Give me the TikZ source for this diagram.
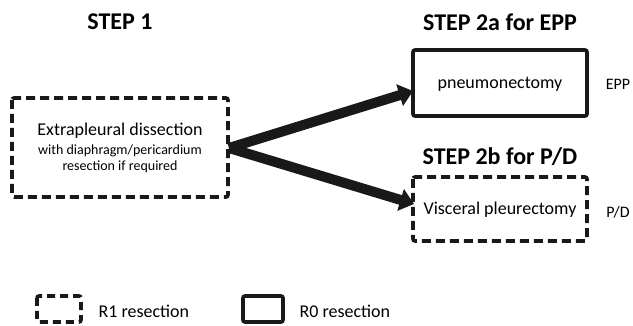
\documentclass[tikz,border=0pt]{standalone}
\usepackage{fontspec}
\setmainfont{Carlito}
\usetikzlibrary{arrows.meta}
\begin{document}
\begin{tikzpicture}[x=1pt,y=-1pt,
  rbox/.style={draw=black!90,line width=3.6pt,rounded corners=2pt,inner sep=0pt},
  rdash/.style={rbox,dash pattern=on 9pt off 5pt},
  title/.style={font=\bfseries\fontsize{24}{28}\selectfont},
  lbl/.style={font=\fontsize{18}{20}\selectfont},
  sml/.style={font=\fontsize{14}{16}\selectfont},
  fat/.style={line width=10pt,draw=black!90,-{Triangle[length=14pt,width=22pt]}}]
\useasboundingbox (0,0) rectangle (633,326);
\node[title] (t1) at (120,22) {STEP 1};
\node[title] (t2a) at (500,22) {STEP 2a for EPP};
\node[title] (t2b) at (500,157) {STEP 2b for P/D};
\draw[rdash] (12,98) rectangle (228,197);
\node[lbl] (s1) at (120,131) {Extrapleural dissection};
\node[sml] (s1b) at (120,151) {with diaphragm/pericardium};
\node[sml] (s1c) at (120,167) {resection if required};
\coordinate (s1e) at (229,148);
\draw[rbox] (413,50) rectangle (587,116);
\node[lbl] (pn) at (500,84) {pneumonectomy};
\coordinate (pne) at (413,91);
\node[sml,font=\fontsize{16}{18}\selectfont] (epp) at (618,84) {EPP};
\draw[rdash] (413,177) rectangle (587,241);
\node[lbl] (vp) at (500,210) {Visceral pleurectomy};
\coordinate (vpe) at (414,204);
\node[sml,font=\fontsize{16}{18}\selectfont] (pd) at (618,212) {P/D};
\draw[fat] (s1e) -- (pne);
\draw[fat] (s1e) -- (vpe);
\draw[rdash,dash pattern=on 8pt off 5pt] (37,296) rectangle (81,322);
\node[lbl,anchor=west] (r1) at (95,311) {R1 resection};
\draw[rbox] (243,296) rectangle (283,322);
\node[lbl,anchor=west] (r0) at (296,311) {R0 resection};
\end{tikzpicture}
\end{document}
